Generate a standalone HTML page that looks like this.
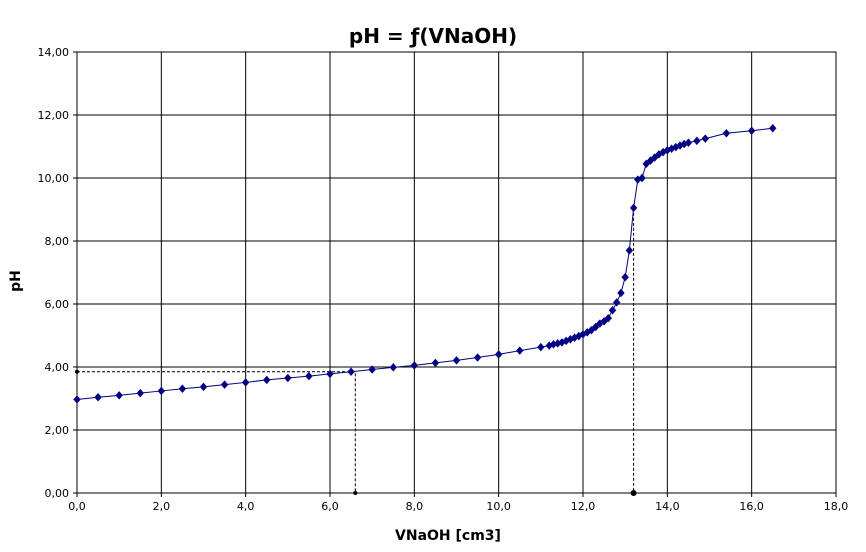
<!DOCTYPE html>
<html><head><meta charset="utf-8"><style>
body{margin:0;background:#fff;font-family:"DejaVu Sans","Liberation Sans",sans-serif}
svg text{font-family:"DejaVu Sans","Liberation Sans",sans-serif}
</style></head><body>
<svg id="c" width="866" height="548"></svg>
<script>
const xs=[0,0.5,1,1.5,2,2.5,3,3.5,4,4.5,5,5.5,6,6.5,7,7.5,8,8.5,9,9.5,10,10.5,11,11.2,11.3,11.4,11.5,11.6,11.7,11.8,11.9,12,12.1,12.2,12.3,12.4,12.5,12.6,12.7,12.8,12.9,13.0,13.1,13.2,13.3,13.4,13.5,13.6,13.7,13.8,13.9,14.0,14.1,14.2,14.3,14.4,14.5,14.7,14.9,15.4,16,16.5];
const ph=[2.97,3.04,3.10,3.17,3.24,3.31,3.37,3.44,3.51,3.59,3.65,3.71,3.78,3.85,3.92,3.99,4.05,4.13,4.21,4.30,4.40,4.52,4.63,4.68,4.72,4.75,4.78,4.83,4.88,4.93,4.98,5.04,5.10,5.17,5.27,5.38,5.45,5.55,5.80,6.05,6.35,6.85,7.70,9.05,9.95,10.0,10.45,10.55,10.65,10.75,10.82,10.88,10.93,10.98,11.03,11.08,11.12,11.18,11.25,11.42,11.50,11.58];
const xTicks=[0,2,4,6,8,10,12,14,16,18];
const yTicks=[0,2,4,6,8,10,12,14];
const halfEq=[6.6,3.85];
const eqV=[13.2,9.05];
const L=77,R=836,T=52,B=493;
const X=v=>L+v/18*(R-L), Y=v=>B-v/14*(B-T);
const s=document.getElementById('c');const NS='http://www.w3.org/2000/svg';
function el(t,a,p){const e=document.createElementNS(NS,t);for(const k in a)e.setAttribute(k,a[k]);(p||s).appendChild(e);return e;}
let r=el('rect',{x:L,y:T,width:R-L,height:B-T,fill:'#fff',stroke:'#000'});


xTicks.forEach(v=>{const g=el('line',{x1:X(v),x2:X(v),y1:T,y2:B+4,stroke:'#000'});


const t=el('text',{x:X(v),y:B+17,'font-size':11,'text-anchor':'middle',fill:'#000'});t.textContent=v.toFixed(1).replace('.',',');

});
yTicks.forEach(v=>{const g=el('line',{x1:L-4,x2:R,y1:Y(v),y2:Y(v),stroke:'#000'});


const t=el('text',{x:L-8,y:Y(v)+4,'font-size':11,'text-anchor':'end',fill:'#000'});t.textContent=v.toFixed(2).replace('.',',');

});
let d=el('path',{d:`M${X(0)},${Y(halfEq[1])}H${X(halfEq[0])}V${Y(0)}`,stroke:'#000','stroke-dasharray':'3,2',fill:'none'});


let d2=el('path',{d:`M${X(eqV[0])},${Y(eqV[1])}V${Y(0)}`,stroke:'#000','stroke-dasharray':'3,2',fill:'none'});


[[X(0),Y(halfEq[1]),2],[X(halfEq[0]),Y(0),2],[X(eqV[0]),Y(0),3]].forEach(p=>{const c=el('circle',{cx:p[0],cy:p[1],r:p[2],fill:'#000'});

});
let ln=el('polyline',{points:xs.map((v,i)=>X(v)+','+Y(ph[i])).join(' '),fill:'none',stroke:'#000080','stroke-width':1});


xs.forEach((v,i)=>{const x=X(v),y=Y(ph[i]);const m=el('polygon',{points:`${x},${y-4} ${x+3.5},${y} ${x},${y+4} ${x-3.5},${y}`,fill:'#000080',stroke:'#1a1a9a','stroke-width':0.5});

});
let tt=el('text',{x:433,y:43,'font-size':20,'font-weight':'bold','text-anchor':'middle'});tt.textContent='pH = ƒ(VNaOH)';


let xt=el('text',{x:448,y:540,'font-size':14,'font-weight':'bold','text-anchor':'middle'});xt.textContent='VNaOH [cm3]';


let yt=el('text',{x:20,y:281,'font-size':14,'font-weight':'bold','text-anchor':'middle',transform:'rotate(-90 20 281)'});yt.textContent='pH';


</script>
</body></html>
